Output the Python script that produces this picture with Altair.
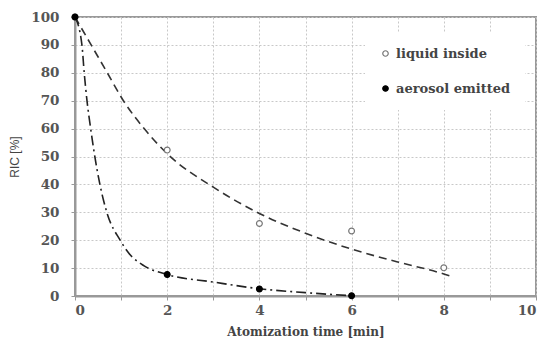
import altair as alt
import pandas as pd

# measured points
liq_x = [0, 2, 4, 6, 8]
liq_y = [100, 52.3, 26.0, 23.3, 10.1]
aer_x = [0, 2, 4, 6]
aer_y = [100, 7.7, 2.5, 0.1]

# trend curves
liq_curve_x = [0, 0.35, 0.7, 1.05, 1.5, 2, 3, 4, 5, 6, 7, 8, 8.15]
liq_curve_y = [100, 90, 80, 70, 60, 51, 39, 29.6, 22.5, 16.8, 12.2, 7.9, 7.1]
aer_curve_x = [0, 0.15, 0.2, 0.26, 0.34, 0.43, 0.54, 0.69, 0.98, 1.16, 1.5, 2, 3, 4, 5, 6]
aer_curve_y = [100, 90, 80, 70, 60, 50, 40, 30, 20, 15.5, 10.8, 7.7, 5.0, 2.6, 1.2, 0.1]

series_names = ["liquid inside", "aerosol emitted"]

pts = pd.DataFrame(
    {"x": liq_x + aer_x,
     "y": liq_y + aer_y,
     "series": [series_names[0]] * len(liq_x) + [series_names[1]] * len(aer_x),
     "order": [0] * len(liq_x) + [1] * len(aer_x)}
)
liq_curve = pd.DataFrame({"x": liq_curve_x, "y": liq_curve_y})
aer_curve = pd.DataFrame({"x": aer_curve_x, "y": aer_curve_y})

serif = "DejaVu Serif"
xscale = alt.Scale(domain=[0, 10], nice=False)
yscale = alt.Scale(domain=[0, 100], nice=False)

xenc = alt.X("x:Q", scale=xscale,
             axis=alt.Axis(values=list(range(11)), title="Atomization time [min]",
                           labelExpr="datum.value % 2 == 0 ? datum.label : ''"))
yenc = alt.Y("y:Q", scale=yscale,
             axis=alt.Axis(values=list(range(0, 101, 10)), title="RIC [%]"))

line_liq = alt.Chart(liq_curve).mark_line(
    color="#333", strokeWidth=1.6, strokeDash=[8, 5], interpolate="monotone"
).encode(x=xenc, y=yenc)

line_aer = alt.Chart(aer_curve).mark_line(
    color="#222", strokeWidth=1.6, strokeDash=[10, 4, 2, 4], interpolate="monotone"
).encode(x=xenc, y=yenc)

points = alt.Chart(pts).mark_point(
    shape="circle", size=34, strokeWidth=1.2, opacity=1, clip=False
).encode(
    x=xenc, y=yenc,
    fill=alt.Fill("series:N", scale=alt.Scale(domain=series_names, range=["white", "black"]),
                  legend=alt.Legend(title=None, orient="none", legendX=290, legendY=16,
                                    fillColor="white", padding=14, rowPadding=21,
                                    symbolSize=30, labelFont=serif, labelFontSize=13,
                                    labelFontWeight="bold", labelColor="#444",
                                    symbolStrokeWidth=1.2)),
    stroke=alt.Stroke("series:N", scale=alt.Scale(domain=series_names, range=["#777", "black"]),
                      legend=alt.Legend(title=None, orient="none", legendX=290, legendY=16)),
    order=alt.Order("order:Q"),
)

chart = alt.layer(line_liq, line_aer, points).properties(
    width=461, height=279,
    autosize=alt.AutoSizeParams(type="none"),
    padding={"left": 67, "top": 9, "right": 1, "bottom": 45},
).configure_view(
    stroke="#999", strokeWidth=2
).configure_axis(
    grid=True, gridColor="#c8c8c8", gridDash=[2, 2], gridWidth=1,
    domainColor="#999", domainWidth=2,
    tickColor="#999", tickSize=4,
    labelFont=serif, labelFontSize=13.5, labelFontWeight="bold", labelColor="#555",
).configure_axisX(
    labelPadding=3,
    titleFont=serif, titleFontSize=12, titleFontWeight="bold", titleColor="#444",
    titlePadding=10,
).configure_axisY(
    labelPadding=12,
    titleFont="Liberation Sans", titleFontSize=12, titleFontWeight="normal", titleColor="#444",
    titlePadding=9,
)

chart.save("out.html", embed_options={"renderer": "svg", "actions": False})
